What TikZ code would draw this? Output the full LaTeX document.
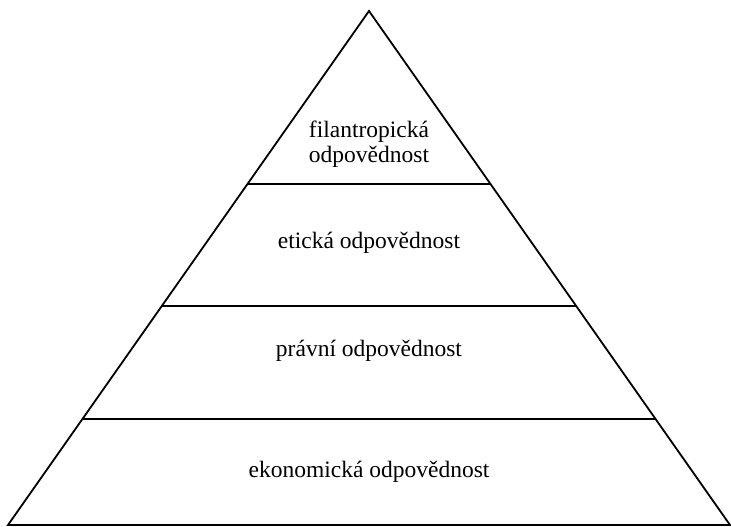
\documentclass[tikz,border=0pt]{standalone}
\usepackage{fontspec}
\setmainfont{Liberation Serif}
\usetikzlibrary{calc}
\tikzset{level/.style={font=\fontsize{23.5}{25}\selectfont, align=center}}

\begin{document}
\begin{tikzpicture}[x=1pt, y=-1pt, line width=1.8pt]
        \useasboundingbox (0,0) rectangle (731,527);
        % Corners of the pyramid
        \coordinate (apex) at (369,11);
        \coordinate (bl) at (8,525);
        \coordinate (br) at (730,525);
        \draw[line join=miter] (bl) -- (apex) -- (br) -- cycle;

        % Dividing lines between the levels
        \draw ($(apex)!0.3366!(bl)$) coordinate (l1) -- ($(apex)!0.3366!(br)$) coordinate (r1);
        \draw ($(apex)!0.574!(bl)$) coordinate (l2) -- ($(apex)!0.574!(br)$) coordinate (r2);
        \draw ($(apex)!0.7938!(bl)$) coordinate (l3) -- ($(apex)!0.7938!(br)$) coordinate (r3);

        % Labels of the levels
        \node[level] (fil) at (369,144) {filantropická\\odpovědnost};
        \node[level] (eti) at (369,243) {etická odpovědnost};
        \node[level] (pra) at (369,351) {právní odpovědnost};
        \node[level] (eko) at (369,472) {ekonomická odpovědnost};
\end{tikzpicture}
\end{document}
